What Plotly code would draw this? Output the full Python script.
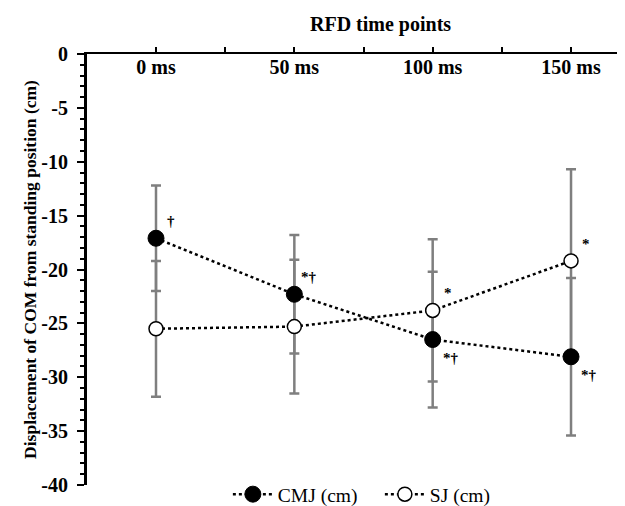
import plotly.graph_objects as go

# ---- data ----
time_ms = [0, 50, 100, 150]
time_labels = ["0 ms", "50 ms", "100 ms", "150 ms"]
cmj_mean = [-17.1, -22.3, -26.5, -28.1]
cmj_sd = [4.9, 5.5, 6.3, 7.3]
sj_mean = [-25.5, -25.3, -23.8, -19.2]
sj_sd = [6.3, 6.2, 6.6, 8.5]
cmj_marks = ["†", "*†", "*†", "*†"]
sj_marks = ["", "", "*", "*"]
top_tick_step = 25
y_ticks = [0, -5, -10, -15, -20, -25, -30, -35, -40]
y_ticktext = ["0", "-5", "-10", "-15", "-20", "-25", "-30", "-35", "-40"]
y_major_step = 5
y_minor_step = 1

FONT = "Liberation Serif, Times New Roman, serif"
GRAY = "#7f7f7f"

fig = go.Figure()

for mean, sd in ((cmj_mean, cmj_sd), (sj_mean, sj_sd)):
    fig.add_trace(go.Scatter(
        x=time_ms, y=mean, mode="markers",
        marker=dict(size=1, opacity=0),
        error_y=dict(type="data", array=sd, visible=True, color=GRAY,
                     thickness=2.5, width=5),
        showlegend=False, hoverinfo="skip"))

fig.add_trace(go.Scatter(
    x=time_ms, y=cmj_mean, mode="lines+markers", name="CMJ (cm)",
    line=dict(color="black", dash="dot", width=2.5),
    marker=dict(size=16, color="black", line=dict(color="black", width=1))))
fig.add_trace(go.Scatter(
    x=time_ms, y=sj_mean, mode="lines+markers", name="SJ (cm)",
    line=dict(color="black", dash="dot", width=2.5),
    marker=dict(size=14, color="white", line=dict(color="black", width=1.5))))

fig.add_trace(go.Scatter(x=time_ms, y=cmj_mean, mode="markers", xaxis="x2",
                         marker=dict(opacity=0), showlegend=False, hoverinfo="skip"))
fig.add_trace(go.Scatter(x=time_ms, y=cmj_mean, mode="markers", yaxis="y2",
                         marker=dict(opacity=0), showlegend=False, hoverinfo="skip"))

annots = []
for xs, ys, marks, below in ((time_ms, cmj_mean, cmj_marks, True), (time_ms, sj_mean, sj_marks, False)):
    for i, (xv, yv, m) in enumerate(zip(xs, ys, marks)):
        if not m:
            continue
        if below and i >= 2:
            dx, dy = 18, -18
        else:
            dx, dy = 15, 17
        annots.append(dict(x=xv, y=yv, xref="x", yref="y", text=m,
                           showarrow=False, xshift=dx, yshift=dy,
                           font=dict(family=FONT, size=15, color="black", weight="bold")))

annots.append(dict(text="RFD time points", xref="paper", yref="paper",
                   x=0.537, y=1.068, showarrow=False, xanchor="center", yanchor="middle",
                   font=dict(family=FONT, size=20, color="black", weight="bold")))

top_vals = list(range(0, 176, top_tick_step))
y_minor_vals = [v for v in range(0, -41, -y_minor_step) if v % y_major_step != 0]

fig.update_layout(
    width=625, height=506,
    margin=dict(l=79, r=0, t=46, b=26),
    paper_bgcolor="white", plot_bgcolor="white",
    font=dict(family=FONT, color="black", size=15),
    xaxis=dict(range=[-24.94, 172.4], side="top", showline=True,
               linecolor="black", linewidth=2, ticks="outside", ticklen=5,
               tickwidth=2, tickcolor="black", tickvals=top_vals,
               showticklabels=False, showgrid=False, zeroline=False),
    xaxis2=dict(matches="x", overlaying="x", side="top", anchor="free",
                position=0.945, showline=False, ticks="", showgrid=False,
                zeroline=False, tickvals=time_ms, ticktext=time_labels,
                tickfont=dict(family=FONT, size=20, color="black", weight="bold")),
    yaxis=dict(range=[-40, 0], showline=True, linecolor="black", linewidth=2.5,
               ticks="outside", ticklen=7, tickwidth=2, tickcolor="black",
               tickvals=y_ticks, showticklabels=False, showgrid=False, zeroline=False,
               minor=dict(tickvals=y_minor_vals, ticks="outside", ticklen=4,
                          tickwidth=2, tickcolor="black", showgrid=False)),
    yaxis2=dict(matches="y", overlaying="y", side="left", anchor="x",
                showline=False, ticks="", tickvals=y_ticks, ticktext=y_ticktext,
                ticklabelstandoff=18, ticklabeloverflow="allow",
                showgrid=False, zeroline=False,
                tickfont=dict(family=FONT, size=20, color="black", weight="bold"),
                title=dict(text="Displacement of COM from standing position (cm)",
                           standoff=0,
                           font=dict(family=FONT, size=17.5, color="black", weight="bold"))),
    legend=dict(orientation="h", x=0.258, xanchor="left", y=-0.022,
                yanchor="middle", font=dict(family=FONT, size=19.5, color="black"),
                bgcolor="rgba(0,0,0,0)", itemwidth=40, entrywidth=97),
    annotations=annots,
)

fig.write_html("out.html")
